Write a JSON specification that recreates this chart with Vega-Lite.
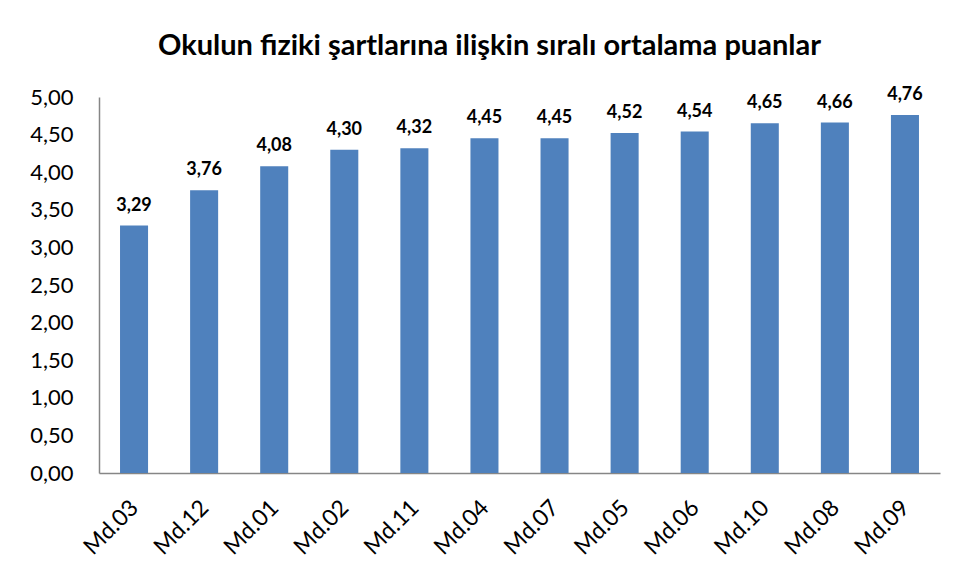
{
  "$schema": "https://vega.github.io/schema/vega-lite/v6.json",
  "width": 841,
  "height": 376,
  "autosize": {"type": "none"},
  "padding": {"left": 99, "top": 97, "right": 20, "bottom": 106},
  "background": "white",
  "config": {
    "font": "Lato",
    "view": {"stroke": null},
    "locale": {"number": {"decimal": ",", "thousands": ".", "grouping": [3], "currency": ["", " ₺"]}}
  },
  "title": {
    "text": "Okulun fiziki şartlarına ilişkin sıralı ortalama puanlar",
    "font": "Lato",
    "fontSize": 29,
    "fontWeight": "bold",
    "color": "#000000",
    "offset": 25,
    "dx": -30
  },
  "data": {
    "values": [
      {"madde": "Md.03", "puan": 3.29},
      {"madde": "Md.12", "puan": 3.76},
      {"madde": "Md.01", "puan": 4.08},
      {"madde": "Md.02", "puan": 4.30},
      {"madde": "Md.11", "puan": 4.32},
      {"madde": "Md.04", "puan": 4.45},
      {"madde": "Md.07", "puan": 4.45},
      {"madde": "Md.05", "puan": 4.52},
      {"madde": "Md.06", "puan": 4.54},
      {"madde": "Md.10", "puan": 4.65},
      {"madde": "Md.08", "puan": 4.66},
      {"madde": "Md.09", "puan": 4.76}
    ]
  },
  "encoding": {
    "x": {
      "field": "madde",
      "type": "nominal",
      "sort": null,
      "scale": {"paddingInner": 0.6, "paddingOuter": 0.3},
      "axis": {
        "title": null,
        "labelAngle": -45,
        "labelFontSize": 23,
        "labelColor": "#000000",
        "labelPadding": 23,
        "labelOffset": -7,
        "ticks": false,
        "domainColor": "#868686",
        "domainWidth": 1.5
      }
    },
    "y": {
      "field": "puan",
      "type": "quantitative",
      "scale": {"domain": [0, 5]},
      "axis": {
        "title": null,
        "values": [0, 0.5, 1, 1.5, 2, 2.5, 3, 3.5, 4, 4.5, 5],
        "format": ".2f",
        "grid": false,
        "ticks": false,
        "labelFontSize": 22,
        "labelColor": "#000000",
        "labelPadding": 26,
        "domainColor": "#868686",
        "domainWidth": 1.5
      }
    }
  },
  "layer": [
    {"mark": {"type": "bar", "color": "#4F81BD"}},
    {
      "mark": {"type": "text", "baseline": "bottom", "dy": -11, "fontSize": 18, "fontWeight": "bold", "color": "#000000"},
      "encoding": {"text": {"field": "puan", "type": "quantitative", "format": ".2f"}}
    }
  ]
}
